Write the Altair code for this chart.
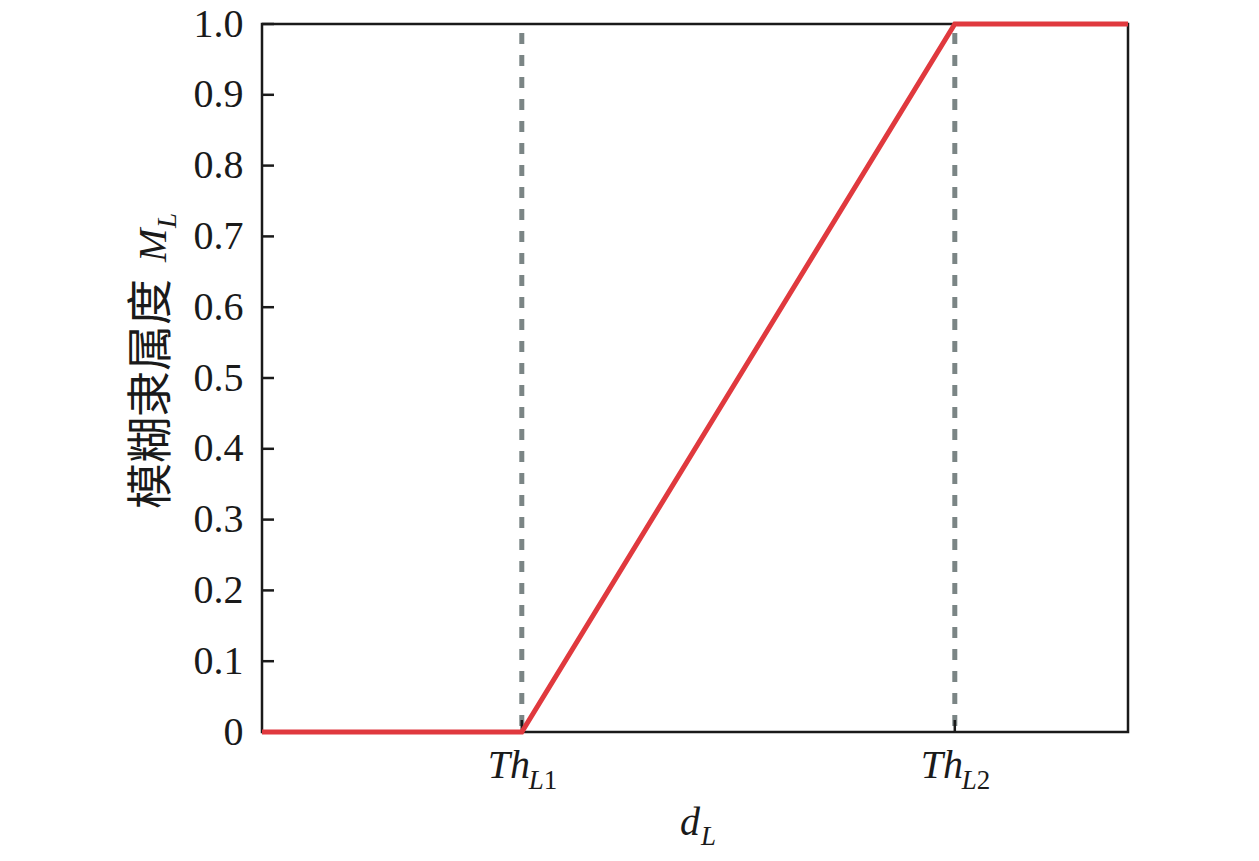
import altair as alt
import pandas as pd

# ---- data ----
x_vals = [0.0, 0.3, 0.8, 1.0]
y_vals = [0.0, 0.0, 1.0, 1.0]
thresholds = [0.3, 0.8]
tick_main = ["Th", "Th"]
tick_sub_letter = ["L", "L"]
tick_sub_digit = ["1", "2"]
y_ticks = [0.0, 0.1, 0.2, 0.3, 0.4, 0.5, 0.6, 0.7, 0.8, 0.9, 1.0]

W, H = 866, 708
TICK = 12
FONT = "Liberation Serif"
CJK = "Noto Sans CJK SC"
INK = "#1a1a1a"
RED = "#e0393e"
GREY = "#7b8585"

line_df = pd.DataFrame({"x": x_vals, "y": y_vals})
th_df = pd.DataFrame({"x": thresholds, "main": tick_main,
                      "letter": tick_sub_letter, "digit": tick_sub_digit})
yt_df = pd.DataFrame({"y": y_ticks})

xs = alt.Scale(domain=[0, 1], nice=False, zero=False)
ys = alt.Scale(domain=[0, 1], nice=False)

xaxis = alt.Axis(values=thresholds, labels=False, domain=False, grid=False,
                 ticks=False, title=None)
yaxis = alt.Axis(values=y_ticks,
                 labelExpr="datum.value == 0 ? '0' : format(datum.value, '.1f')",
                 domain=False, grid=False, ticks=False,
                 labelFont=FONT, labelFontSize=40,
                 labelColor=INK, labelPadding=19, labelOverlap=False,
                 title=None)

rules = alt.Chart(th_df).mark_rule(color=GREY, strokeWidth=5, strokeDash=[11, 11],
                                   strokeDashOffset=-9).encode(
    x=alt.X("x:Q", scale=xs, axis=xaxis)
)

line = alt.Chart(line_df).mark_line(color=RED, strokeWidth=5).encode(
    x=alt.X("x:Q", scale=xs),
    y=alt.Y("y:Q", scale=ys, axis=yaxis),
)

# inward tick marks (left axis and bottom axis)
ytick_marks = alt.Chart(yt_df).mark_rule(color=INK, strokeWidth=2.5).encode(
    y=alt.Y("y:Q", scale=ys),
    x=alt.X(datum=0, type="quantitative", scale=xs),
    x2=alt.X2(datum=TICK / W),
)
xtick_marks = alt.Chart(th_df).mark_rule(color=INK, strokeWidth=2.5).encode(
    x=alt.X("x:Q", scale=xs), y=alt.value(H - TICK), y2=alt.value(H))

th_main = alt.Chart(th_df).mark_text(font=FONT, fontSize=40, fontStyle="italic",
                                     align="left", baseline="alphabetic", dx=-34,
                                     color=INK).encode(
    x=alt.X("x:Q", scale=xs), y=alt.value(754), text="main:N")
th_letter = alt.Chart(th_df).mark_text(font=FONT, fontSize=27, fontStyle="italic",
                                       align="left", baseline="alphabetic", dx=7,
                                       color=INK).encode(
    x=alt.X("x:Q", scale=xs), y=alt.value(765), text="letter:N")
th_digit = alt.Chart(th_df).mark_text(font=FONT, fontSize=27,
                                      align="left", baseline="alphabetic", dx=22,
                                      color=INK).encode(
    x=alt.X("x:Q", scale=xs), y=alt.value(765), text="digit:N")

# x title  d_L
xt_d = alt.Chart(pd.DataFrame({"t": ["d"]})).mark_text(
    font=FONT, fontSize=40, fontStyle="italic", align="right", baseline="alphabetic",
    color=INK).encode(x=alt.value(438), y=alt.value(811), text="t:N")
xt_l = alt.Chart(pd.DataFrame({"t": ["L"]})).mark_text(
    font=FONT, fontSize=27, fontStyle="italic", align="left", baseline="alphabetic",
    color=INK).encode(x=alt.value(439), y=alt.value(821), text="t:N")

# y title  模糊隶属度 M_L
yt_cn = alt.Chart(pd.DataFrame({"t": ["模糊隶属度"]})).mark_text(
    font=CJK, fontSize=46, angle=270, align="right", baseline="alphabetic",
    color=INK).encode(x=alt.value(-96), y=alt.value(255), text="t:N")
yt_m = alt.Chart(pd.DataFrame({"t": ["M"]})).mark_text(
    font=FONT, fontSize=40, fontStyle="italic", angle=270, align="left",
    baseline="alphabetic", color=INK).encode(x=alt.value(-96), y=alt.value(238), text="t:N")
yt_l = alt.Chart(pd.DataFrame({"t": ["L"]})).mark_text(
    font=FONT, fontSize=27, fontStyle="italic", angle=270, align="left",
    baseline="alphabetic", color=INK).encode(x=alt.value(-86), y=alt.value(204), text="t:N")

chart = alt.layer(rules, ytick_marks, xtick_marks, line, th_main, th_letter, th_digit,
                  xt_d, xt_l, yt_cn, yt_m, yt_l).properties(
    width=W, height=H,
    autosize=alt.AutoSizeParams(type="none"),
    padding={"left": 254, "top": 16, "right": 100, "bottom": 120},
).configure_view(stroke=INK, strokeWidth=2.5)

chart.save("out.html", embed_options={"renderer": "svg", "actions": False})
